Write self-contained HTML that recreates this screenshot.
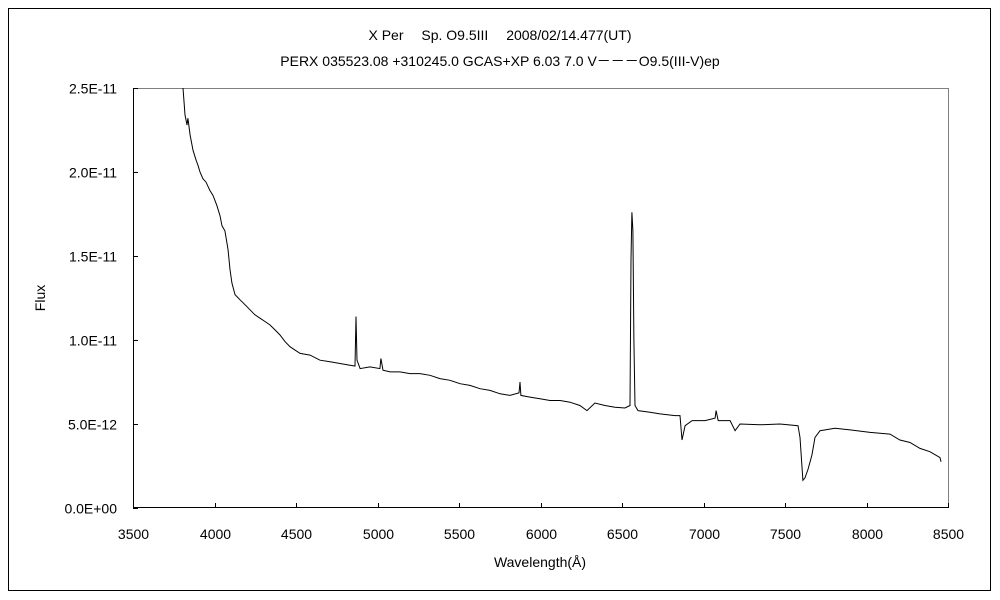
<!DOCTYPE html>
<html><head><meta charset="utf-8"><style>
html,body{margin:0;padding:0;background:#fff}
svg{display:block}
text{font-family:"Liberation Sans","Noto Sans CJK JP",sans-serif;font-size:14px;fill:#000}
</style></head><body>
<svg id="chart" width="1000" height="600">
<rect x="8.5" y="8.5" width="982" height="582" fill="#fff" stroke="#000"/>
<text x="500" y="40" text-anchor="middle">X Per　 Sp. O9.5III　 2008/02/14.477(UT)</text>
<text x="500" y="66" text-anchor="middle">PERX 035523.08 +310245.0 GCAS+XP 6.03 7.0 V－－－O9.5(III-V)ep</text>
<rect x="133.5" y="88.5" width="815" height="419" fill="none" stroke="#808080"/>
<g id="axes"></g>
<path id="line" fill="none" stroke="#000" stroke-width="1"/>
<text x="540" y="567" text-anchor="middle">Wavelength(Å)</text>
<text transform="translate(45,298) rotate(-90)" text-anchor="middle">Flux</text>
</svg>
<script>
const xTicks=[3500,4000,4500,5000,5500,6000,6500,7000,7500,8000,8500];
const yTicks=[0,5,10,15,20,25];
const yTickLabels=["0.0E+00","5.0E-12","1.0E-11","1.5E-11","2.0E-11","2.5E-11"];
const wavelength=[3807,3819,3831,3837,3850,3868,3887,3899,3911,3929,3948,3972,3991,4015,4034,4046,4064,4083,4095,4107,4126,4156,4187,4218,4248,4279,4310,4340,4371,4402,4433,4463,4494,4525,4586,4647,4709,4770,4831,4862,4868,4874,4893,4954,5015,5021,5034,5077,5138,5199,5261,5322,5383,5445,5506,5567,5629,5690,5752,5813,5868,5874,5880,5935,5997,6058,6120,6181,6242,6285,6334,6395,6457,6518,6549,6555,6561,6567,6573,6580,6598,6672,6733,6825,6856,6868,6887,6930,7010,7071,7077,7090,7163,7194,7224,7347,7469,7580,7592,7610,7623,7641,7665,7684,7715,7807,7899,8022,8144,8205,8267,8328,8389,8451,8457];
const flux=[25.0,23.4,22.8,23.2,22.2,21.3,20.7,20.4,20.0,19.6,19.4,18.9,18.6,18.0,17.4,16.8,16.5,15.4,14.2,13.4,12.7,12.4,12.1,11.8,11.5,11.3,11.1,10.9,10.6,10.3,9.9,9.6,9.4,9.2,9.1,8.8,8.7,8.6,8.5,8.45,11.4,8.8,8.3,8.4,8.3,8.9,8.2,8.1,8.1,8.0,8.0,7.9,7.7,7.6,7.4,7.3,7.1,7.0,6.8,6.7,6.85,7.5,6.7,6.6,6.5,6.4,6.4,6.3,6.1,5.8,6.25,6.1,6.0,5.95,6.1,14.8,17.6,16.5,10.0,6.1,5.8,5.7,5.6,5.5,5.5,4.05,4.9,5.2,5.2,5.35,5.8,5.2,5.2,4.6,5.0,4.95,5.0,4.9,4.2,1.65,1.8,2.3,3.15,4.2,4.6,4.75,4.65,4.5,4.4,4.05,3.9,3.55,3.35,3.0,2.75];
const X=v=>133+(v-3500)/5000*815;
const Y=v=>508-v/25*420;
const NS="http://www.w3.org/2000/svg";
const ax=document.getElementById('axes');
function mk(tag,attrs,txt){const e=document.createElementNS(NS,tag);for(const k in attrs)e.setAttribute(k,attrs[k]);if(txt!==undefined)e.textContent=txt;ax.appendChild(e);return e;}
let bl=mk('line',{x1:133,y1:507.5,x2:949,y2:507.5,stroke:'#000'});


let ll=mk('line',{x1:133.5,y1:88,x2:133.5,y2:508,stroke:'#000'});


xTicks.forEach(t=>{const x=Math.round(X(t))+0.5;
 const tk=mk('line',{x1:x,y1:503,x2:x,y2:508,stroke:'#000'});
 
 
 const lb=mk('text',{x:x,y:539,'text-anchor':'middle'},String(t));
 
 });
yTicks.forEach((t,i)=>{const y=Math.round(Y(t))+0.5;
 const tk=mk('line',{x1:133,y1:y,x2:138,y2:y,stroke:'#000'});
 
 
 const lb=mk('text',{x:117,y:y+5,'text-anchor':'end'},yTickLabels[i]);
 
 });
document.getElementById('line').setAttribute('d',wavelength.map((w,i)=>(i?'L':'M')+X(w).toFixed(1)+','+Y(flux[i]).toFixed(1)).join(''));
</script>
</body></html>
